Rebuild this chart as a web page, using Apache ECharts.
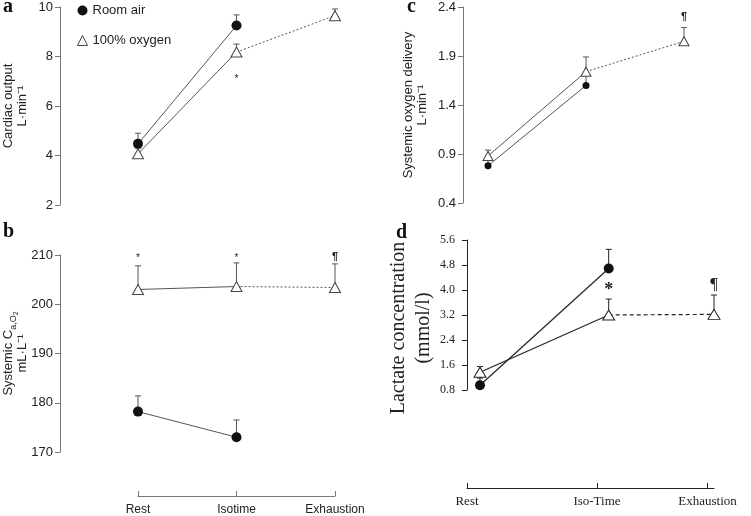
<!DOCTYPE html>
<html>
<head>
<meta charset="utf-8">
<script src="https://cdn.jsdelivr.net/npm/echarts@6/dist/echarts.min.js"></script>
<style>html,body{margin:0;padding:0;background:#fff;}#c{width:751px;height:516px;}</style>
</head>
<body>
<div id="c"></div>
<script>
// ---------------- data ----------------
const categories = ['Rest', 'Isotime', 'Exhaustion'];
const categoriesD = ['Rest', 'Iso-Time', 'Exhaustion'];
// panel d x positions (time points) and its tick positions
const xPosD = [0.1, 1.09, 1.9];
const xTicksD = [0, 1, 1.85];

// a: cardiac output (L/min)
const cardiacRoom = [4.47, 9.25, null];
const cardiacRoomErr = [4.9, 9.68, null];
const cardiacOxy = [4.07, 8.18, 9.65];
const cardiacOxyErr = [4.3, 8.5, 9.92];
const annotA = [null, 7.09, null];
const annotTextA = ['', '*', ''];
const yTicksA = [2, 4, 6, 8, 10];

// b: systemic CaO2 (mL/L)
const cao2Room = [178.2, 173.0, null];
const cao2RoomErr = [181.4, 176.5, null];
const cao2Oxy = [203.0, 203.6, 203.4];
const cao2OxyErr = [207.8, 208.4, 208.2];
const annotB = [209.35, 209.35, 209.6];
const annotTextB = ['*', '*', '¶'];
const yTicksB = [170, 180, 190, 200, 210];

// c: systemic oxygen delivery (L/min)
const do2Room = [0.78, 1.60, null];
const do2RoomErr = [0.84, 1.72, null];
const do2Oxy = [0.88, 1.74, 2.05];
const do2OxyErr = [0.94, 1.89, 2.19];
const annotC = [null, null, 2.30];
const annotTextC = ['', '', '¶'];
const yTicksC = [0.4, 0.9, 1.4, 1.9, 2.4];

// d: lactate (mmol/l)
const lactRoom = [0.95, 4.69, null];
const lactRoomErr = [1.18, 5.30, null];
const lactOxy = [1.37, 3.20, 3.22];
const lactOxyErr = [1.55, 3.71, 3.84];
const annotD = [null, 4.0, 4.16];
const annotTextD = ['', '*', '¶'];
const yTicksD = [0.8, 1.6, 2.4, 3.2, 4.0, 4.8, 5.6];

// ---------------- styling ----------------
const SANS = 'Liberation Sans, Arial, sans-serif';
const SERIF = 'Liberation Serif, Times New Roman, serif';

function pts(xs, ys, from, to) {
  const out = [];
  for (let i = from; i <= to; i++) if (ys[i] != null) out.push([xs[i], ys[i]]);
  return out;
}

function panelSeries(i, xs, room, roomErr, oxy, oxyErr, ann, annText, st) {
  const common = { xAxisIndex: i, yAxisIndex: i };
  const lineStyle = { color: st.line, width: st.lw };
  const errData = (vals, errs) => {
    const o = [];
    vals.forEach((v, k) => { if (v != null && errs[k] != null) o.push([xs[k], v, errs[k]]); });
    return o;
  };
  const errSeries = (vals, errs) => Object.assign({
    type: 'custom', z: 3, silent: true,
    data: errData(vals, errs),
    renderItem: (params, api) => {
      const p0 = api.coord([api.value(0), api.value(1)]);
      const p1 = api.coord([api.value(0), api.value(2)]);
      const w = st.cap;
      return { type: 'group', children: [
        { type: 'line', shape: { x1: p0[0], y1: p0[1], x2: p1[0], y2: p1[1] }, style: { stroke: st.line, lineWidth: 1 } },
        { type: 'line', shape: { x1: p1[0] - w, y1: p1[1], x2: p1[0] + w, y2: p1[1] }, style: { stroke: st.line, lineWidth: 1 } }
      ] };
    }
  }, common);
  const annList = [];
  ann.forEach((v, k) => { if (v != null) annList.push({ x: xs[k], y: v, t: annText[k] }); });
  return [
    Object.assign({ type: 'line', name: 'room-line-' + i, data: pts(xs, room, 0, 2), showSymbol: false, symbol: 'none', lineStyle, z: 2, silent: true }, common),
    Object.assign({ type: 'line', name: 'oxy-line-' + i, data: pts(xs, oxy, 0, 1), showSymbol: false, symbol: 'none', lineStyle, z: 2, silent: true }, common),
    Object.assign({ type: 'line', name: 'oxy-dot-' + i, data: pts(xs, oxy, 1, 2), showSymbol: false, symbol: 'none', lineStyle: { color: st.line, width: st.lw, type: st.dash }, z: 2, silent: true }, common),
    errSeries(room, roomErr),
    errSeries(oxy, oxyErr),
    Object.assign({ type: 'scatter', name: 'Room air', data: pts(xs, room, 0, 2), symbol: 'circle', symbolSize: st.circ,
      itemStyle: { color: '#111', opacity: 1 }, z: 4 }, common),
    Object.assign({ type: 'scatter', name: '100% oxygen', data: pts(xs, oxy, 0, 2), symbol: 'triangle', symbolSize: st.tri,
      itemStyle: { color: '#fff', borderColor: st.triBorder, borderWidth: 1, opacity: 1 }, z: 5 }, common),
    Object.assign({ type: 'custom', z: 6, silent: true, data: annList.map(a => [a.x, a.y]),
      renderItem: (params, api) => {
        const p = api.coord([api.value(0), api.value(1)]);
        const a = annList[params.dataIndex];
        return { type: 'text', x: p[0], y: p[1], style: { text: a.t, font: a.t === '*' ? st.starFont : st.pilcrowFont, fill: '#222', align: 'center', verticalAlign: 'middle' } };
      } }, common)
  ];
}

const stABC = { line: '#555', lw: 1, dash: [2, 2], circ: 10, tri: [11, 10], triBorder: '#444', cap: 3,
  starFont: '10px ' + SANS, pilcrowFont: 'bold 11px ' + SANS };
const stC = Object.assign({}, stABC, { circ: 7, tri: [10, 9] });
const stD = { line: '#222', lw: 1.2, dash: [4, 3], circ: 10, tri: [12, 10], triBorder: '#222', cap: 3,
  starFont: 'bold 18px ' + SERIF, pilcrowFont: '17px ' + SERIF };

const sansAxis = {
  axisLine: { show: true, lineStyle: { color: '#777', width: 1 } },
  axisTick: { show: true, length: 5, lineStyle: { color: '#777' } },
  splitLine: { show: false }
};
const serifAxis = {
  axisLine: { show: true, lineStyle: { color: '#222', width: 1 } },
  axisTick: { show: true, length: 5, lineStyle: { color: '#222' } },
  splitLine: { show: false }
};
const nameCommon = { nameLocation: 'middle', nameRotate: 90, nameMoveOverlap: false };

const option = {
  animation: false,
  title: [
    { text: 'a', left: 3, top: -3, padding: 0, textStyle: { fontFamily: SERIF, fontWeight: 'bold', fontSize: 20, color: '#111' } },
    { text: 'b', left: 3, top: 222, padding: 0, textStyle: { fontFamily: SERIF, fontWeight: 'bold', fontSize: 20, color: '#111' } },
    { text: 'c', left: 407, top: -3, padding: 0, textStyle: { fontFamily: SERIF, fontWeight: 'bold', fontSize: 20, color: '#111' } },
    { text: 'd', left: 396, top: 223, padding: 0, textStyle: { fontFamily: SERIF, fontWeight: 'bold', fontSize: 20, color: '#111' } }
  ],
  legend: {
    orient: 'vertical', left: 77, top: 4, padding: 0,
    itemWidth: 10, itemHeight: 10, itemGap: 17, selectedMode: false,
    itemStyle: { borderWidth: 1 },
    textStyle: { fontFamily: SANS, fontSize: 13, color: '#222' },
    data: ['Room air', '100% oxygen']
  },
  grid: [
    { left: 138, width: 197, top: 7, height: 198, outerBoundsMode: 'none', containLabel: false },
    { left: 138, width: 197, top: 255, height: 197, outerBoundsMode: 'none', containLabel: false },
    { left: 488, width: 196, top: 7, height: 196, outerBoundsMode: 'none', containLabel: false },
    { left: 467, width: 247, top: 240, height: 150, outerBoundsMode: 'none', containLabel: false }
  ],
  xAxis: [
    { gridIndex: 0, type: 'category', data: categories, boundaryGap: false, show: false },
    Object.assign({}, sansAxis, { gridIndex: 1, type: 'category', data: categories, boundaryGap: false, offset: 44,
      axisTick: { show: true, inside: true, length: 5, lineStyle: { color: '#777' } },
      axisLabel: { margin: 8, fontFamily: SANS, fontSize: 12, color: '#222' } }),
    { gridIndex: 2, type: 'category', data: categories, boundaryGap: false, show: false },
    Object.assign({}, serifAxis, { gridIndex: 3, type: 'value', min: 0, max: 1.9, offset: 98,
      axisTick: { show: true, inside: true, length: 5, lineStyle: { color: '#222' }, customValues: xTicksD },
      axisLabel: { margin: 7, fontFamily: SERIF, fontSize: 13, color: '#222', customValues: xTicksD,
        formatter: v => categoriesD[xTicksD.indexOf(v)] || '' } })
  ],
  yAxis: [
    Object.assign({}, sansAxis, nameCommon, { gridIndex: 0, type: 'value', min: 2, max: 10, interval: 2, offset: 78,
      axisLabel: { margin: 7, fontFamily: SANS, fontSize: 13, color: '#222' },
      name: 'Cardiac output\nL·min⁻¹', nameGap: 31,
      nameTextStyle: { fontFamily: SANS, fontSize: 13, lineHeight: 14, color: '#222', align: 'center' } }),
    Object.assign({}, sansAxis, nameCommon, { gridIndex: 1, type: 'value', min: 170, max: 210, interval: 10, offset: 78,
      axisLabel: { margin: 7, fontFamily: SANS, fontSize: 13, color: '#222' },
      name: '{n|Systemic C}{s|a,O}{ss|2}\n{n|mL·L⁻¹}', nameGap: 31,
      nameTextStyle: { fontFamily: SANS, fontSize: 13, lineHeight: 14, color: '#222', align: 'center',
        rich: {
          n: { fontFamily: SANS, fontSize: 13, lineHeight: 14, color: '#222' },
          s: { fontFamily: SANS, fontSize: 9, lineHeight: 14, verticalAlign: 'bottom', color: '#222', padding: [0, 0, -3, 0] },
          ss: { fontFamily: SANS, fontSize: 7, lineHeight: 14, verticalAlign: 'bottom', color: '#222', padding: [0, 0, -5, 0] }
        } } }),
    Object.assign({}, sansAxis, nameCommon, { gridIndex: 2, type: 'value', min: 0.4, max: 2.4, offset: 25,
      axisTick: { show: true, length: 5, lineStyle: { color: '#777' }, customValues: yTicksC },
      axisLabel: { margin: 7, fontFamily: SANS, fontSize: 13, color: '#222', customValues: yTicksC, formatter: v => v.toFixed(1) },
      name: 'Systemic oxygen delivery\nL·min⁻¹', nameGap: 34,
      nameTextStyle: { fontFamily: SANS, fontSize: 13, lineHeight: 14, color: '#222', align: 'center' } }),
    Object.assign({}, serifAxis, nameCommon, { gridIndex: 3, type: 'value', min: 0.8, max: 5.6, offset: 5,
      axisTick: { show: true, length: 5, lineStyle: { color: '#222' }, customValues: yTicksD },
      axisLabel: { margin: 7, fontFamily: SERIF, fontSize: 12, color: '#222', customValues: yTicksD, formatter: v => v.toFixed(1) },
      name: 'Lactate concentration\n(mmol/l)', nameGap: 26,
      nameTextStyle: { fontFamily: SERIF, fontSize: 20, lineHeight: 25, color: '#222', align: 'center', padding: [0, 26, 0, 0] } })
  ],
  series: [].concat(
    panelSeries(0, [0, 1, 2], cardiacRoom, cardiacRoomErr, cardiacOxy, cardiacOxyErr, annotA, annotTextA, stABC),
    panelSeries(1, [0, 1, 2], cao2Room, cao2RoomErr, cao2Oxy, cao2OxyErr, annotB, annotTextB, stABC),
    panelSeries(2, [0, 1, 2], do2Room, do2RoomErr, do2Oxy, do2OxyErr, annotC, annotTextC, stC),
    panelSeries(3, xPosD, lactRoom, lactRoomErr, lactOxy, lactOxyErr, annotD, annotTextD, stD)
  )
};

const chart = echarts.init(document.getElementById('c'), null, { renderer: 'canvas' });
chart.setOption(option);
</script>
</body>
</html>
